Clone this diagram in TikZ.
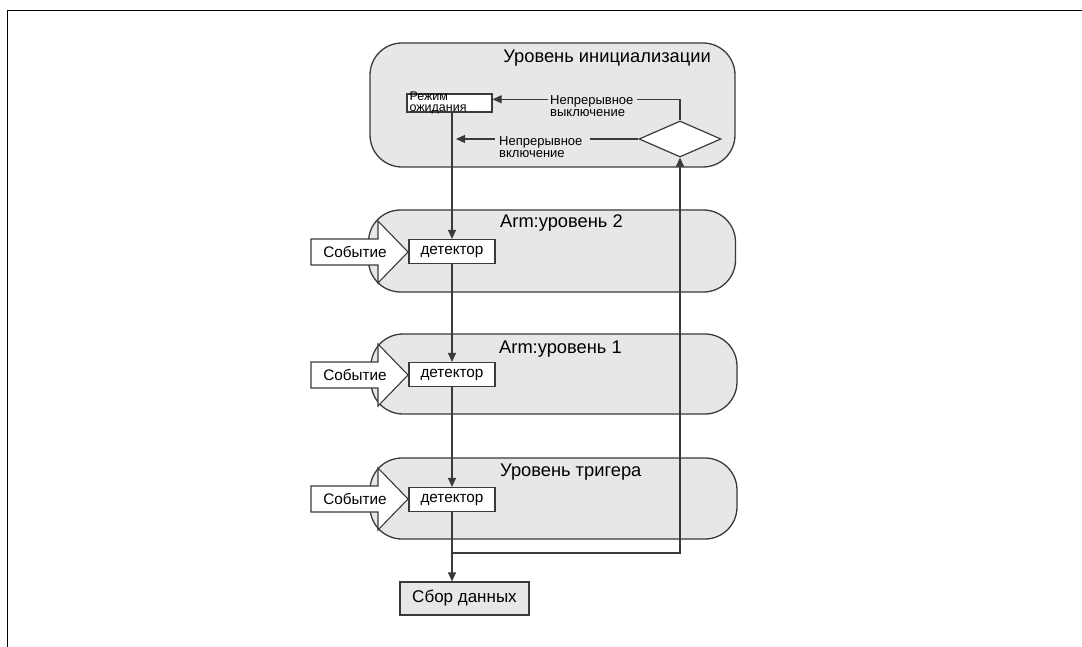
\documentclass[tikz,border=0pt]{standalone}
\usepackage{fontspec}
\setmainfont{Liberation Sans}
\usetikzlibrary{arrows.meta,shapes.geometric}
\definecolor{boxfill}{HTML}{E6E7E9}
\definecolor{ln}{HTML}{3A3A3A}
\begin{document}
\begin{tikzpicture}[x=1pt,y=-1pt,
  level/.style={draw=ln, line width=1.3pt, fill=boxfill, rounded corners=32pt, inner sep=0pt},
  title/.style={font=\fontsize{18.3}{20}\selectfont, inner sep=0pt},
  detbox/.style={draw=ln, line width=1.2pt, fill=white, minimum width=86pt, minimum height=24pt, inner sep=0pt, font=\fontsize{15.3}{17}\selectfont},
  small/.style={font=\fontsize{13}{12.5}\selectfont, align=left, inner sep=0pt},
  conn/.style={draw=ln, line width=1.1pt},
  arr/.style={conn, -{Triangle[length=9pt,width=8pt]}},
  evt/.style={font=\fontsize{15.3}{17}\selectfont, inner sep=0pt}
]
\useasboundingbox (0,0) rectangle (1082,647);
% frame
\draw[line width=1.6pt] (7.5,647) -- (7.5,10.5) -- (1082,10.5);

% level boxes
\node[level, minimum width=365pt, minimum height=124pt] (init) at (552.5,105) {};
\node[level, minimum width=367pt, minimum height=82pt] (arm2) at (552,251) {};
\node[level, minimum width=366pt, minimum height=80pt] (arm1) at (554,374) {};
\node[level, minimum width=367pt, minimum height=81pt] (trig) at (553.5,498.5) {};

% titles
\node[title, anchor=base east] (initT) at (711,63) {Уровень инициализации};
\node[title, anchor=base west] (arm2T) at (500,228) {Arm:уровень 2};
\node[title, anchor=base west] (arm1T) at (499,353) {Arm:уровень 1};
\node[title, anchor=base west] (trigT) at (500,476) {Уровень тригера};

% init-level content
\node[draw=ln, line width=1.2pt, fill=white, minimum width=85pt, minimum height=18pt, inner xsep=2.5pt, inner ysep=0pt,
      font=\fontsize{12.5}{11}\selectfont] (rez) at (449.5,103)
      {\makebox[80pt][l]{\smash{\raisebox{-3.4pt}{\begin{tabular}{@{}l@{}}Режим\\ожидания\end{tabular}}}}};
\node[draw=ln, line width=1.2pt, fill=white, diamond, aspect=2.28, minimum width=82pt, minimum height=36pt, inner sep=0pt] (dia) at (680,139) {};
\node[small, anchor=north west] (lbl1) at (550,95) {Непрерывное\\выключение};
\node[small, anchor=north west] (lbl2) at (499,136) {Непрерывное\\включение};

\coordinate (a1) at (637,99.3);
\coordinate (a2) at (548,99.3);
\coordinate (b1) at (590,139);
\coordinate (b2) at (495,139);
\coordinate (b3) at (456,139);
\draw[conn] (dia.north) |- (a1);
\draw[arr] (a2) -- (a2 -| rez.east);
\draw[conn] (dia.west) -- (b1);
\draw[arr] (b2) -- (b3);

% detectors
\node[detbox] (det2) at (452,251.5) {детектор};
\node[detbox] (det1) at (452,374.5) {детектор};
\node[detbox] (det0) at (452,499.5) {детектор};

% event arrows
\foreach \n/\y in {e2/252, e1/375, e0/499} {
  \draw[conn, fill=white] (311,\y-13) -- (378,\y-13) -- (378,\y-31) -- (408,\y) -- (378,\y+31) -- (378,\y+13) -- (311,\y+13) -- cycle;
  \node[evt] (\n) at (355,\y) {Событие};
}

% data collection
\node[draw=ln, line width=1.2pt, fill=boxfill, minimum width=129pt, minimum height=33pt, inner sep=0pt,
      font=\fontsize{17}{19}\selectfont] (sbor) at (464.5,598.5) {Сбор данных};

% flow
\draw[arr] (det2.north |- rez.south) -- (det2.north);
\draw[arr] (det2.south) -- (det1.north);
\draw[arr] (det1.south) -- (det0.north);
\draw[arr] (det0.south) -- (det0.south |- sbor.north);
\coordinate (fb) at (452,553);
\draw[arr] (fb) -| (dia.south);
\end{tikzpicture}
\end{document}
